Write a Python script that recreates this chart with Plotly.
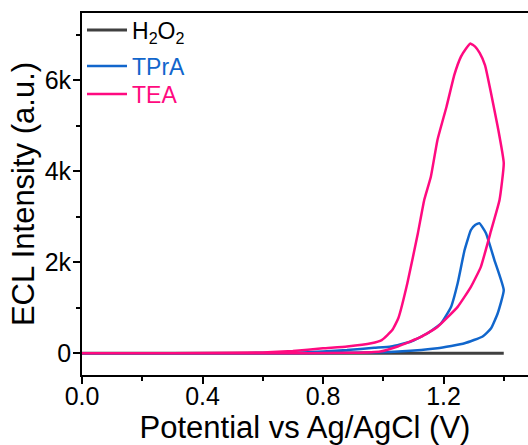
import plotly.graph_objects as go

# ---- data ----
h2o2_potential = [0.0, 0.2, 0.4, 0.6, 0.8, 1.0, 1.2, 1.4]
h2o2_intensity = [0, 0, 0, 0, 0, 0, 0, 0]

tpra_potential = [0.0, 0.4, 0.7, 0.8, 0.88, 0.97, 1.026, 1.092, 1.147, 1.192, 1.225, 1.247, 1.27, 1.291,
                  1.305, 1.319, 1.341, 1.369, 1.4,
                  1.38, 1.358, 1.33, 1.27, 1.18, 1.05, 0.9, 0.5, 0.0]
tpra_intensity = [0, 0, 10, 40, 70, 120, 150, 260, 440, 660, 1020, 1540, 2270, 2710,
                  2820, 2860, 2640, 2050, 1390,
                  880, 550, 370, 220, 110, 40, 10, 0, 0]

tea_potential = [0.0, 0.2, 0.4, 0.6, 0.7, 0.8, 0.88, 0.96, 0.995, 1.03, 1.05, 1.08, 1.115, 1.136, 1.158,
                 1.18, 1.21, 1.236, 1.258, 1.275, 1.289, 1.305, 1.32, 1.338, 1.358, 1.38, 1.4,
                 1.386, 1.358, 1.324, 1.291, 1.247, 1.18, 1.125, 1.048, 0.99, 0.9, 0.6, 0.0]
tea_intensity = [0, 0, 5, 20, 50, 110, 150, 220, 290, 510, 770, 1540, 2640, 3370, 3880,
                 4690, 5420, 6120, 6520, 6700, 6810, 6740, 6600, 6330, 5710, 4980, 4180,
                 3370, 2700, 1900, 1460, 1020, 580, 360, 150, 40, 10, 0, 0]

y_tickvals = [0, 2000, 4000, 6000]
y_ticktext = ["0", "2k", "4k", "6k"]
x_tickvals = [0.0, 0.4, 0.8, 1.2]
x_ticktext = ["0.0", "0.4", "0.8", "1.2"]

C_H2O2 = "#404040"
C_TPRA = "#1166cc"
C_TEA = "#ff0a80"

FONT = "Arial, 'Liberation Sans', sans-serif"

fig = go.Figure()
fig.add_trace(go.Scatter(x=h2o2_potential, y=h2o2_intensity, mode="lines",
                         line=dict(color=C_H2O2, width=3), legend="legend",
                         name='H<sub>2</sub>O<sub>2</sub>'))
fig.add_trace(go.Scatter(x=tpra_potential, y=tpra_intensity, mode="lines",
                         line=dict(color=C_TPRA, width=2.5, shape="spline", smoothing=0.4),
                         legend="legend2",
                         name='<span style="color:%s">TPrA</span>' % C_TPRA))
fig.add_trace(go.Scatter(x=tea_potential, y=tea_intensity, mode="lines",
                         line=dict(color=C_TEA, width=2.5, shape="spline", smoothing=0.4),
                         legend="legend3",
                         name='<span style="color:%s">TEA</span>' % C_TEA))

def leg(ypix):
    return dict(x=0, y=(375 - ypix) / 362, xanchor="left", yanchor="middle",
                bgcolor="rgba(0,0,0,0)", font=dict(size=23, color="black"), itemwidth=40)

fig.update_layout(
    width=528, height=445,
    margin=dict(l=82, r=0, t=13, b=70),
    paper_bgcolor="white", plot_bgcolor="white",
    font=dict(family=FONT, color="black", size=25),
    showlegend=True,
    legend=leg(30), legend2=leg(66), legend3=leg(94),
    xaxis=dict(range=[0, 1.4805], showgrid=False, zeroline=False,
               showline=True, linecolor="black", linewidth=1.8, mirror=True,
               ticks="outside", ticklen=7, tickwidth=1.5, tickcolor="black",
               tickmode="array", tickvals=x_tickvals, ticktext=x_ticktext,
               ticklabelstandoff=-9,
               minor=dict(ticks="outside", ticklen=4, tickwidth=1.5, tickcolor="black", dtick=0.2, tick0=0),
               title=dict(text="Potential vs Ag/AgCl (V)", font=dict(size=31), standoff=0)),
    yaxis=dict(range=[-477, 7479], showgrid=False, zeroline=False,
               showline=True, linecolor="black", linewidth=1.8, mirror=False,
               ticks="outside", ticklen=7, tickwidth=1.5, tickcolor="black",
               tickmode="array", tickvals=y_tickvals, ticktext=y_ticktext,
               ticklabelstandoff=-3,
               minor=dict(ticks="outside", ticklen=4, tickwidth=1.5, tickcolor="black", dtick=1000, tick0=0),
               title=dict(text="ECL Intensity (a.u.)", font=dict(size=31), standoff=1)),
)

fig.write_html("out.html")
